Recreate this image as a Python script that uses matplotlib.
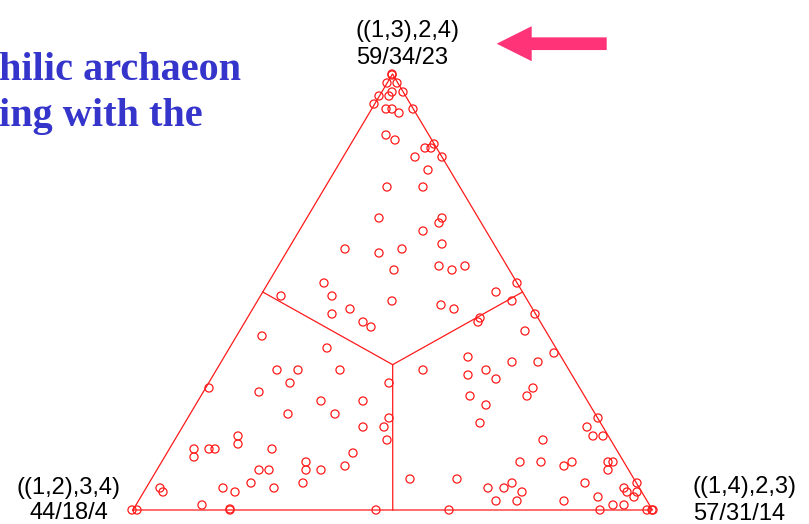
import matplotlib.pyplot as plt

# Likelihood-mapping triangle: corners (left, right, top) in plot units
corner_u = [0, 519.5, 259.5]
corner_v = [0, 0, 436]

corner_names = ['((1,2),3,4)', '((1,4),2,3)', '((1,3),2,4)']
corner_counts = ['44/18/4', '57/31/14', '59/34/23']

# Quartet points (u = along base, v = height above base)
pts_u = [259, 259, 254, 264, 259, 246, 256, 270, 241, 253, 259, 266, 280, 253, 262,
         301, 292, 298, 282, 309, 295, 254, 290,
         246, 309, 306, 290, 212, 246, 269, 309, 261, 306, 319, 332, 191, 148, 199,
         259, 308, 321, 199, 217, 230, 238, 363, 379, 347, 345, 194, 384,
         129, 144, 165, 207, 157, 76, 126, 188, 230, 155, 202, 256, 256, 251, 230,
         254, 105, 105, 61, 61, 76, 82, 139, 220, 173, 173, 188, 212, 126, 136,
         27, 30, 90, 102, 118, 141, 170, 69, -1, 4, 97, 97, 243,
         402, 392, 421, 335, 379, 405, 290, 335, 353, 363, 400, 394, 337, 353, 347,
         465, 454, 460, 470, 410, 387, 408, 431, 439, 475, 480, 475, 277, 324, 379,
         371, 355, 389, 452, 504, 491, 494, 504, 501, 465, 363, 384, 431, 480, 491,
         467, 316, 514, 519, 520]
pts_v = [436, 435, 427, 427, 418, 414, 414, 418, 406, 401, 401, 397, 401, 375, 370,
         366, 362, 362, 353, 353, 340, 323, 323,
         292, 292, 287, 279, 261, 257, 261, 266, 240, 244, 240, 244, 227, 214, 214,
         209, 205, 201, 196, 201, 188, 183, 218, 209, 192, 188, 162, 227,
         174, 140, 140, 140, 127, 122, 118, 109, 109, 96, 96, 127, 92, 83, 83,
         70, 74, 66, 61, 53, 61, 61, 61, 57, 48, 40, 40, 44, 40, 40,
         22, 18, 22, 18, 27, 22, 27, 5, 0, 0, 0, 1, 0,
         196, 179, 157, 153, 148, 148, 140, 135, 140, 131, 122, 114, 114, 105, 87,
         92, 83, 74, 74, 70, 48, 48, 44, 48, 48, 48, 40, 31, 31, 27,
         22, 22, 18, 27, 27, 22, 18, 18, 13, 13, 9, 9, 9, 5, 5,
         0, 0, 0, 0, 0]

fig = plt.figure(figsize=(8.09, 5.24), dpi=100)
ax = fig.add_axes([0, 0, 1, 1])
ax.set_xlim(-133, 676)
ax.set_ylim(-14, 510)
ax.axis('off')

red = '#ff1a1a'

# outline
ax.plot(corner_u + corner_u[:1], corner_v + corner_v[:1], color=red, lw=0.9)

# lines from the centroid to the edge midpoints
cu = sum(corner_u) / 3
cv = sum(corner_v) / 3
for i in range(3):
    j = (i + 1) % 3
    mu = (corner_u[i] + corner_u[j]) / 2
    mv = (corner_v[i] + corner_v[j]) / 2
    ax.plot([cu, mu], [cv, mv], color=red, lw=0.9)

ax.scatter(pts_u, pts_v, s=34, facecolors='none', edgecolors=red, linewidths=0.9, zorder=3)

# corner labels
lab = dict(fontsize=17, family='Liberation Sans', color='black', va='baseline')
ax.text(-64.5, 16, corner_names[0], ha='center', **lab)
ax.text(-64.5, -9, corner_counts[0], ha='center', **lab)
ax.text(560, 17, corner_names[1], ha='left', **lab)
ax.text(560, -10, corner_counts[1], ha='left', **lab)
ax.text(223, 473, corner_names[2], ha='left', **lab)
ax.text(223, 446, corner_counts[2], ha='left', **lab)

# pointer to the top corner
ax.arrow(473.7, 466.3, -110, 0, width=12.7, head_width=35, head_length=35,
         length_includes_head=True, color='#ff3377', lw=0)

# slide title fragments
title = dict(fontsize=29, family='Liberation Serif', weight='bold', color='#3535cc',
             ha='left', va='baseline')
ax.text(-134, 430, 'hilic archaeon', **title)
ax.text(-134, 384, 'ing with the', **title)

fig.savefig('out.png', dpi=100)
